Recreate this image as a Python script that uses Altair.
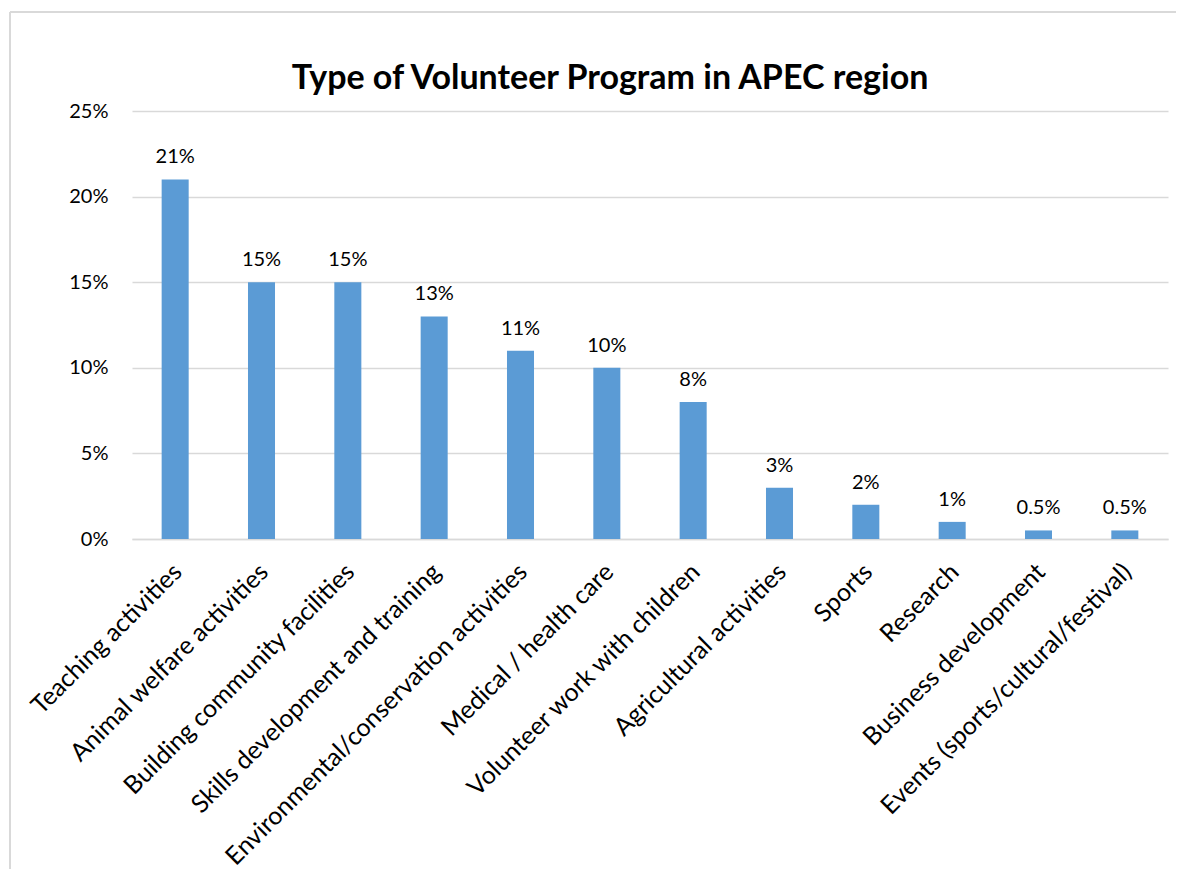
import altair as alt
import pandas as pd

categories = [
    "Teaching activities",
    "Animal welfare activities",
    "Building community facilities",
    "Skills development and training",
    "Environmental/conservation activities",
    "Medical / health care",
    "Volunteer work with children",
    "Agricultural activities",
    "Sports",
    "Research",
    "Business development",
    "Events (sports/cultural/festival)",
]
shares = [0.21, 0.15, 0.15, 0.13, 0.11, 0.10, 0.08, 0.03, 0.02, 0.01, 0.005, 0.005]
y_ticks = [0, 0.05, 0.10, 0.15, 0.20, 0.25]
title_text = "Type of Volunteer Program in APEC region"

df = pd.DataFrame({"category": categories, "share": shares})

FONT = "Lato"
W, H = 1036, 428

x_enc = alt.X(
    "category:N",
    sort=categories,
    title=None,
    scale=alt.Scale(paddingInner=0.687, paddingOuter=0.3435),
    axis=alt.Axis(
        labelAngle=-45,
        labelFontSize=25,
        labelFont=FONT,
        labelColor="#000000",
        labelPadding=20,
        labelOffset=-6,
        ticks=False,
        grid=False,
        domainColor="#d9d9d9",
        domainWidth=1.5,
        labelLimit=600,
    ),
)
y_enc = alt.Y(
    "share:Q",
    title=None,
    scale=alt.Scale(domain=[0, 0.25], nice=False),
    axis=alt.Axis(
        values=y_ticks,
        format=".0%",
        labelFontSize=20,
        labelFont=FONT,
        labelColor="#000000",
        labelPadding=24,
        ticks=False,
        domain=False,
        grid=True,
        gridColor="#d9d9d9",
        gridWidth=1.5,
    ),
)

bars = alt.Chart(df).mark_bar(color="#5b9bd5").encode(x=x_enc, y=y_enc)
labels = alt.Chart(df).mark_text(
    baseline="bottom", dy=-12, fontSize=20, font=FONT, color="#000000"
).encode(x=alt.X("category:N", sort=categories), y="share:Q", text=alt.Text("share:Q", format=".1~%"))

title_mark = alt.Chart(pd.DataFrame({"t": [title_text]})).mark_text(
    font=FONT, fontSize=34, fontWeight="bold", color="#000000", align="center", baseline="alphabetic"
).encode(x=alt.value(610 - 132), y=alt.value(89 - 111), text="t:N")

border_top = alt.Chart(df).mark_rule(color="#d9d9d9", strokeWidth=2).encode(
    x=alt.value(10 - 132), x2=alt.value(1184 - 132), y=alt.value(12 - 111)
)
border_left = alt.Chart(df).mark_rule(color="#d9d9d9", strokeWidth=2).encode(
    x=alt.value(10 - 132), y=alt.value(12 - 111), y2=alt.value(876 - 111)
)

chart = alt.layer(border_top, border_left, bars, labels, title_mark).properties(
    width=W,
    height=H,
    autosize=alt.AutoSizeParams(type="none"),
    padding={"left": 124, "top": 103, "right": 8, "bottom": 330},
).configure_view(stroke=None)

chart.save("out.html", embed_options={"renderer": "svg", "actions": False})
